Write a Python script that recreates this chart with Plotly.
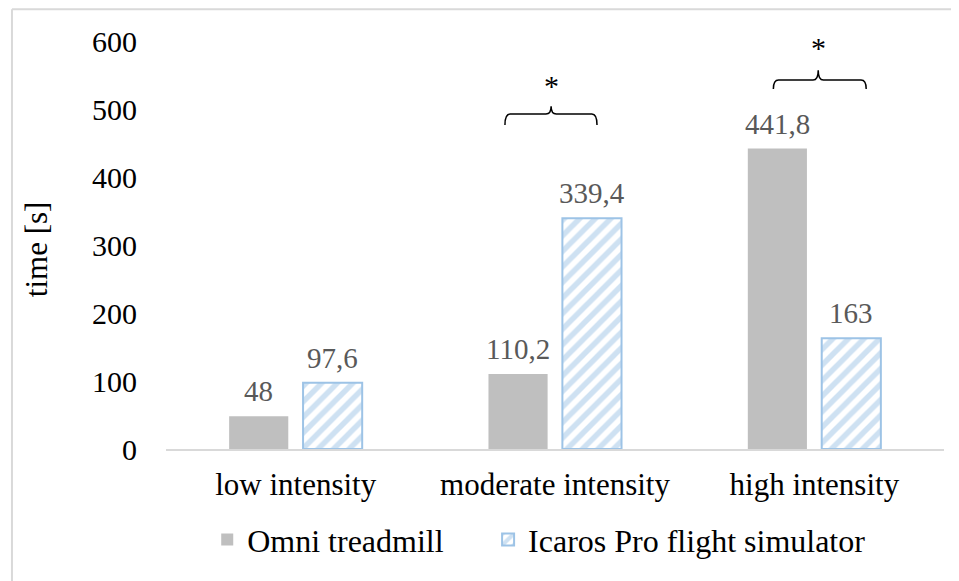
import plotly.graph_objects as go

categories = ["low intensity", "moderate intensity", "high intensity"]
omni = [48, 110.2, 441.8]
icaros = [97.6, 339.4, 163]
series_names = ["Omni treadmill", "Icaros Pro flight simulator"]
y_ticks = [0, 100, 200, 300, 400, 500, 600]

FONT = "Liberation Serif"
GRAY = "#BFBFBF"
BLUE = "#9DC3E6"
LABEL = "#595959"

def fmt(v):
    return ("%g" % v).replace(".", ",")

fig = go.Figure()
fig.add_trace(go.Bar(
    x=categories, y=omni, name=series_names[0], legend="legend",
    marker=dict(color=GRAY, line=dict(width=0)),
))
fig.add_trace(go.Bar(
    x=categories, y=icaros, name=series_names[1], legend="legend2",
    marker=dict(color="white", line=dict(color=BLUE, width=2),
                pattern=dict(shape="/", fgcolor=BLUE, bgcolor="white",
                             size=11, solidity=0.5, fillmode="overlay")),
))

annotations = []
for i, c in enumerate(categories):
    for vals, xs in ((omni, -37), (icaros, 37)):
        annotations.append(dict(
            x=c, y=vals[i], xref="x", yref="y", text=fmt(vals[i]),
            showarrow=False, yanchor="bottom", xanchor="center", xshift=xs, yshift=7,
            font=dict(family=FONT, size=29, color=LABEL)))

# y axis title
annotations.append(dict(x=-0.167, y=0.49, xref="paper", yref="paper",
                        text="time [s]", textangle=-90, showarrow=False,
                        xanchor="center", yanchor="middle",
                        font=dict(family=FONT, size=31, color="black")))

# asterisks
annotations.append(dict(x=0.985, y=535, xref="x", yref="y", text="*", showarrow=False,
                        xanchor="center", yanchor="middle",
                        font=dict(family=FONT, size=30, color="black")))
annotations.append(dict(x=2.015, y=590, xref="x", yref="y", text="*", showarrow=False,
                        xanchor="center", yanchor="middle",
                        font=dict(family=FONT, size=30, color="black")))

def bracket(x0, x1, xc, ybot, ytop, ypeak, dx=0.02):
    return (f"M {x0},{ybot} Q {x0},{ytop} {x0+dx},{ytop} "
            f"L {xc-dx},{ytop} Q {xc},{ytop} {xc},{ypeak} "
            f"Q {xc},{ytop} {xc+dx},{ytop} L {x1-dx},{ytop} "
            f"Q {x1},{ytop} {x1},{ybot}")

shapes = [
    dict(type="path", xref="x", yref="y",
         path=bracket(0.807, 1.162, 0.985, 476.5, 492.6, 504),
         line=dict(color="black", width=1.5)),
    dict(type="path", xref="x", yref="y",
         path=bracket(1.842, 2.2, 2.015, 529.4, 542.6, 557),
         line=dict(color="black", width=1.5)),
    # outer chart frame (top and left edges visible)
    dict(type="line", xref="paper", yref="paper",
         x0=-0.198, x1=1.2, y0=1.078, y1=1.078,
         line=dict(color="#D9D9D9", width=2), layer="below"),
    dict(type="line", xref="paper", yref="paper",
         x0=-0.198, x1=-0.198, y0=-0.5, y1=1.078,
         line=dict(color="#D9D9D9", width=2), layer="below"),
]

legend_common = dict(orientation="h", yanchor="middle", xanchor="left",
                     font=dict(family=FONT, size=32, color="black"),
                     itemwidth=30, bgcolor="rgba(0,0,0,0)")

fig.update_layout(
    width=951, height=573,
    margin=dict(l=158, r=15, t=33, b=132, autoexpand=False),
    paper_bgcolor="white", plot_bgcolor="white",
    barmode="group", bargap=0.43, bargroupgap=0.2,
    font=dict(family=FONT, size=30, color="black"),
    showlegend=True,
    legend=dict(x=0.053, y=-0.222, **legend_common),
    legend2=dict(x=0.414, y=-0.222, **legend_common),
    annotations=annotations,
    shapes=shapes,
    xaxis=dict(showline=True, linecolor="#D9D9D9", linewidth=2, ticks="",
               showgrid=False, zeroline=False, ticklabelstandoff=7,
               tickfont=dict(family=FONT, size=31, color="black"), fixedrange=True),
    yaxis=dict(range=[0, 600], tickvals=y_ticks, showgrid=False, zeroline=False,
               showline=False, ticks="", ticklabelstandoff=28,
               tickfont=dict(family=FONT, size=30, color="black"), fixedrange=True),
)

fig.write_html("out.html")
